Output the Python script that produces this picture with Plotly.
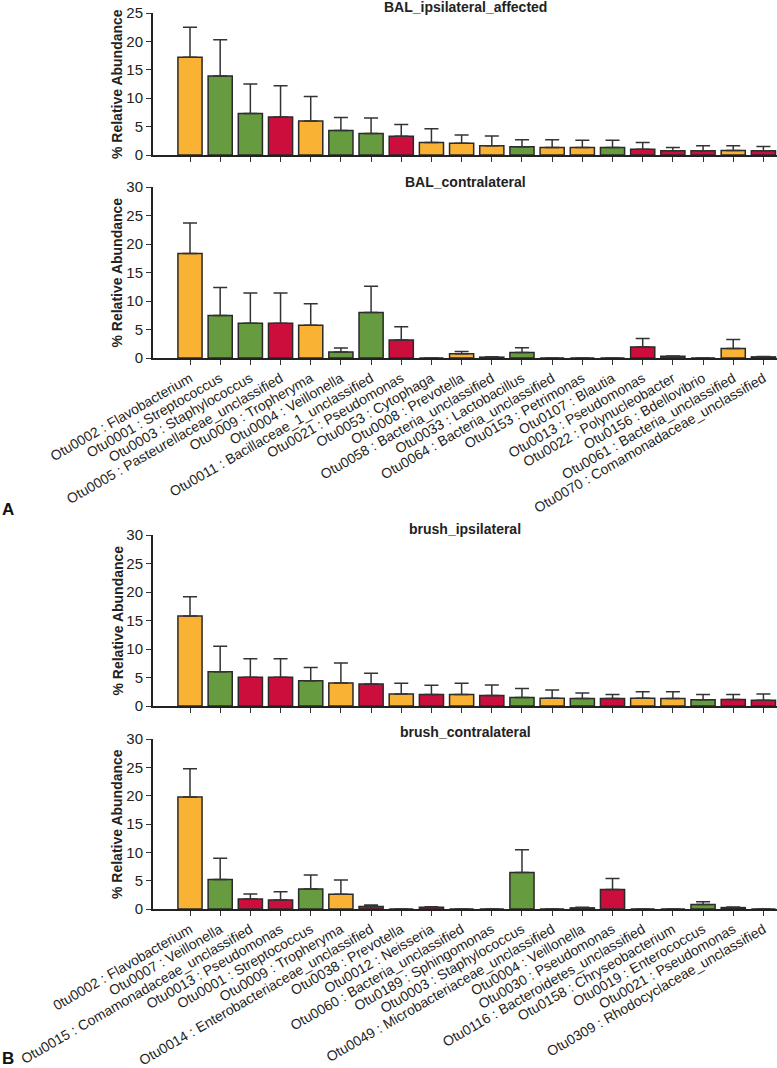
import plotly.graph_objects as go

# ---------------- data ----------------
labels_A = [
    "Otu0002 : Flavobacterium", "Otu0001 : Streptococcus", "Otu0003 : Staphylococcus",
    "Otu0005 : Pasteurellaceae_unclassified", "Otu0009 : Tropheryma", "Otu0004 : Veillonella",
    "Otu0011 : Bacillaceae_1_unclassified", "Otu0021 : Pseudomonas", "Otu0053 : Cytophaga",
    "Otu0008 : Prevotella", "Otu0058 : Bacteria_unclassified", "Otu0033 : Lactobacillus",
    "Otu0064 : Bacteria_unclassified", "Otu0153 : Petrimonas", "Otu0107 : Blautia",
    "Otu0013 : Pseudomonas", "Otu0022 : Polynucleobacter", "Otu0156 : Bdellovibrio",
    "Otu0061 : Bacteria_unclassified", "Otu0070 : Comamonadaceae_unclassified",
]
labels_B = [
    "0tu0002 : Flavobacterium", "Otu0007 : Veillonella", "Otu0015 : Comamonadaceae_unclassified",
    "Otu0013 : Pseudomonas", "Otu0001 : Streptococcus", "Otu0009 : Tropheryma",
    "Otu0014 : Enterobacteriaceae_unclassified", "Otu0038 : Prevotella", "Otu0012 : Neisseria",
    "Otu0060 : Bacteria_unclassified", "Otu0189 : Sphingomonas", "Otu0003 : Staphylococcus",
    "Otu0049 : Microbacteriaceae_unclassified", "Otu0004 : Veillonella", "Otu0030 : Pseudomonas",
    "Otu0116 : Bacteroidetes_unclassified", "Otu0158 : Chryseobacterium", "Otu0019 : Enterococcus",
    "Otu0021 : Pseudomonas", "Otu0309 : Rhodocyclaceae_unclassified",
]

groups_A = ["O", "G", "G", "R", "O", "G", "G", "R", "O", "O", "O", "G", "O", "O", "G", "R", "R", "R", "O", "R"]
groups_B = ["O", "G", "R", "R", "G", "O", "R", "O", "R", "O", "R", "G", "O", "G", "R", "O", "O", "G", "R", "R"]

bal_ipsi_mean = [17.2, 13.9, 7.3, 6.7, 6.0, 4.3, 3.8, 3.3, 2.2, 2.05, 1.65, 1.45, 1.3, 1.3, 1.3, 1.0, 0.75, 0.75, 0.8, 0.75]
bal_ipsi_sem = [5.3, 6.4, 5.2, 5.5, 4.3, 2.3, 2.7, 2.05, 2.4, 1.45, 1.7, 1.25, 1.4, 1.3, 1.3, 1.2, 0.55, 0.9, 0.85, 0.75]

bal_contra_mean = [18.35, 7.45, 6.1, 6.1, 5.75, 1.05, 8.0, 3.15, 0, 0.75, 0.15, 0.95, 0, 0, 0, 1.95, 0.3, 0, 1.65, 0.2]
bal_contra_sem = [5.35, 4.9, 5.3, 5.3, 3.75, 0.7, 4.6, 2.35, 0, 0.4, 0.05, 0.85, 0, 0, 0, 1.45, 0.05, 0, 1.6, 0.05]

brush_ipsi_mean = [15.8, 6.0, 5.05, 5.05, 4.45, 4.05, 3.85, 2.1, 2.0, 2.0, 1.85, 1.5, 1.35, 1.3, 1.3, 1.35, 1.3, 1.1, 1.15, 1.0]
brush_ipsi_sem = [3.35, 4.5, 3.25, 3.25, 2.3, 3.5, 1.9, 1.9, 1.65, 2.0, 1.85, 1.55, 1.45, 1.0, 0.7, 1.15, 1.2, 0.9, 0.85, 1.1]

brush_contra_mean = [19.75, 5.2, 1.75, 1.6, 3.55, 2.6, 0.45, 0, 0.3, 0, 0, 6.45, 0, 0.2, 3.45, 0, 0, 0.8, 0.25, 0]
brush_contra_sem = [5.0, 3.75, 0.9, 1.45, 2.45, 2.5, 0.25, 0, 0.1, 0, 0, 4.0, 0, 0.1, 1.95, 0, 0, 0.5, 0.1, 0]

titles = ["BAL_ipsilateral_affected", "BAL_contralateral", "brush_ipsilateral", "brush_contralateral"]
y_max = [25, 30, 30, 30]

# ---------------- style ----------------
W, H = 777, 1068
palette = {"O": "#F9B233", "G": "#669C3F", "R": "#CC0E3D"}
FONT = "Liberation Sans, Arial, Helvetica, sans-serif"

panels = [
    (bal_ipsi_mean, bal_ipsi_sem, groups_A, labels_A, False, (13, 155)),
    (bal_contra_mean, bal_contra_sem, groups_A, labels_A, True, (187, 358)),
    (brush_ipsi_mean, brush_ipsi_sem, groups_B, labels_B, False, (535, 706)),
    (brush_contra_mean, brush_contra_sem, groups_B, labels_B, True, (739, 909)),
]

fig = go.Figure()
layout = dict(
    width=W, height=H,
    margin=dict(l=0, r=0, t=0, b=0),
    paper_bgcolor="white", plot_bgcolor="white",
    showlegend=False,
    font=dict(family=FONT, color="#222222"),
)
annotations = []

x_left_px, x_right_px = 153, 777
first_tick_px, spacing_px = 190, 30.18
x_range = [(x_left_px - first_tick_px) / spacing_px, (x_right_px - first_tick_px) / spacing_px]

for i, (mean, sem, grp, labels, show_lbl, (ytop, ybot)) in enumerate(panels):
    n = i + 1
    xs = list(range(len(mean)))
    fig.add_trace(go.Bar(
        x=xs, y=mean,
        width=0.8,
        marker=dict(color=[palette[g] for g in grp], line=dict(color="#2a2a2a", width=1.5)),
        error_y=dict(type="data", array=sem, arrayminus=[0] * len(sem), symmetric=False,
                     color="#333333", thickness=1.5, width=7),
        xaxis=f"x{n}", yaxis=f"y{n}",
    ))
    dom = [1 - ybot / H, 1 - ytop / H]
    layout[f"xaxis{n}"] = dict(
        domain=[x_left_px / W, 1.0], range=x_range, anchor=f"y{n}",
        tickmode="array", tickvals=xs, ticktext=labels if show_lbl else [""] * len(xs),
        showticklabels=show_lbl, tickangle=-30,
        ticks="outside", ticklen=5, tickwidth=1.3, tickcolor="#333333",
        showline=True, linecolor="#222222", linewidth=2,
        showgrid=False, zeroline=False, automargin=False,
        tickfont=dict(family=FONT, size=14, color="#1e1e1e"),
    )
    layout[f"yaxis{n}"] = dict(
        domain=dom, range=[0, y_max[i]], anchor=f"x{n}",
        dtick=5, tick0=0, ticks="outside", ticklen=5, tickwidth=1.3, tickcolor="#333333",
        showline=True, linecolor="#222222", linewidth=2,
        showgrid=False, zeroline=False, automargin=False,
        tickfont=dict(family=FONT, size=15, color="#222222"),
    )
    annotations.append(dict(
        text="<b>% Relative Abundance</b>", textangle=-90,
        x=117 / W, y=1 - (ytop + ybot) / 2 / H, xref="paper", yref="paper",
        showarrow=False, xanchor="center", yanchor="middle",
        font=dict(family=FONT, size=14, color="#222222"),
    ))

title_y_px = [7, 182, 529, 732]
for t, ty in zip(titles, title_y_px):
    annotations.append(dict(
        text=f"<b>{t}</b>", x=465 / W, y=1 - ty / H, xref="paper", yref="paper",
        showarrow=False, xanchor="center", yanchor="middle",
        font=dict(family=FONT, size=14, color="#222222"),
    ))

for lab, ly in [("A", 510), ("B", 1058)]:
    annotations.append(dict(
        text=f"<b>{lab}</b>", x=0, y=1 - ly / H, xref="paper", yref="paper",
        showarrow=False, xanchor="left", yanchor="middle",
        font=dict(family=FONT, size=17, color="#111111"),
    ))

layout["annotations"] = annotations
fig.update_layout(**layout)
fig.write_html(
    "out.html",
    config={"displayModeBar": False},
    post_script="document.body.style.margin='0';document.body.style.padding='0';document.body.style.overflow='hidden';",
)
